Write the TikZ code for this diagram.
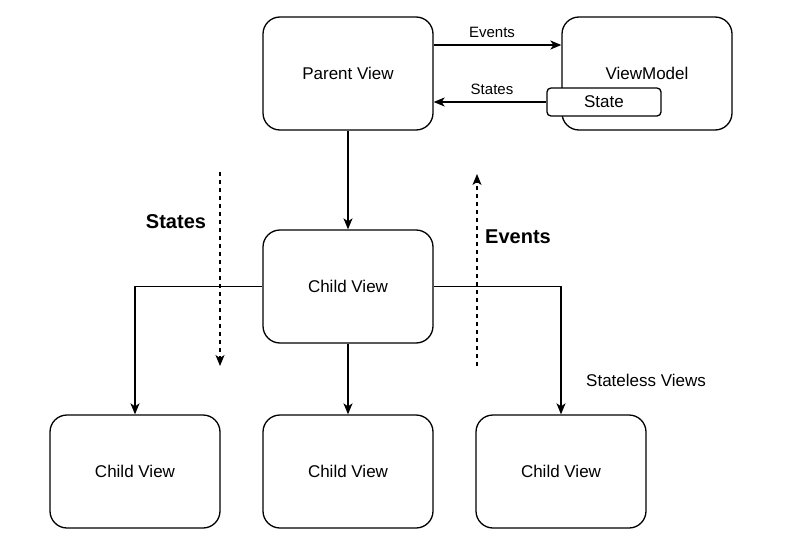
\documentclass[tikz,border=0pt]{standalone}
\usepackage{fontspec}
\setmainfont{Liberation Sans}
\usetikzlibrary{arrows.meta}
\tikzset{
  viewbox/.style={draw, line width=1.3pt, rounded corners=17pt, minimum width=170pt, minimum height=113pt, inner sep=0pt, fill=white, font=\fontsize{17}{20}\selectfont},
  statebox/.style={draw, line width=1.3pt, rounded corners=4pt, minimum width=114pt, minimum height=28pt, inner sep=0pt, fill=white, font=\fontsize{17}{20}\selectfont},
  arr/.style={line width=1.3pt, -{Stealth[length=11pt, width=9pt, inset=3pt]}},
  dasharr/.style={line width=1.3pt, dash pattern=on 4pt off 4pt, -{Stealth[length=11pt, width=9pt, inset=3pt]}},
  elabel/.style={font=\fontsize{15}{18}\selectfont, inner sep=0pt},
  biglabel/.style={font=\fontsize{20}{24}\selectfont\bfseries, inner sep=0pt},
  plainlabel/.style={font=\fontsize{17}{20}\selectfont, inner sep=0pt}
}
\begin{document}
\begin{tikzpicture}[x=1pt, y=-1pt]
\useasboundingbox (0,0) rectangle (785,538);
\node[viewbox] (parent) at (348,73.5) {Parent View};
\node[viewbox] (vm) at (647,73.5) {ViewModel};
\node[statebox] (state) at (604,102) {State};
\node[viewbox] (child) at (348,286.5) {Child View};
\node[viewbox] (bl) at (135,471.5) {Child View};
\node[viewbox] (bm) at (348,471.5) {Child View};
\node[viewbox] (br) at (561,471.5) {Child View};

\draw[arr] (parent.east |- 0,45) -- (vm.west |- 0,45);
\node[elabel] (evlab) at (492,32) {Events};
\draw[arr] (state.west) -- (parent.east |- state.west);
\node[elabel] (stlab) at (492,89) {States};

\draw[arr] (parent.south) -- (child.north);
\draw[arr] (child.west) -| (bl.north);
\draw[arr] (child.south) -- (bm.north);
\draw[arr] (child.east) -| (br.north);

\coordinate (s1) at (220,172);
\coordinate (s2) at (220,366);
\draw[dasharr] (s1) -- (s2);
\coordinate (e1) at (477,366);
\coordinate (e2) at (477,174);
\draw[dasharr] (e1) -- (e2);
\node[biglabel] (bst) at (176,222) {States};
\node[biglabel] (bev) at (518,237) {Events};
\node[plainlabel, anchor=west] (sless) at (586,380) {Stateless Views};
\end{tikzpicture}
\end{document}
